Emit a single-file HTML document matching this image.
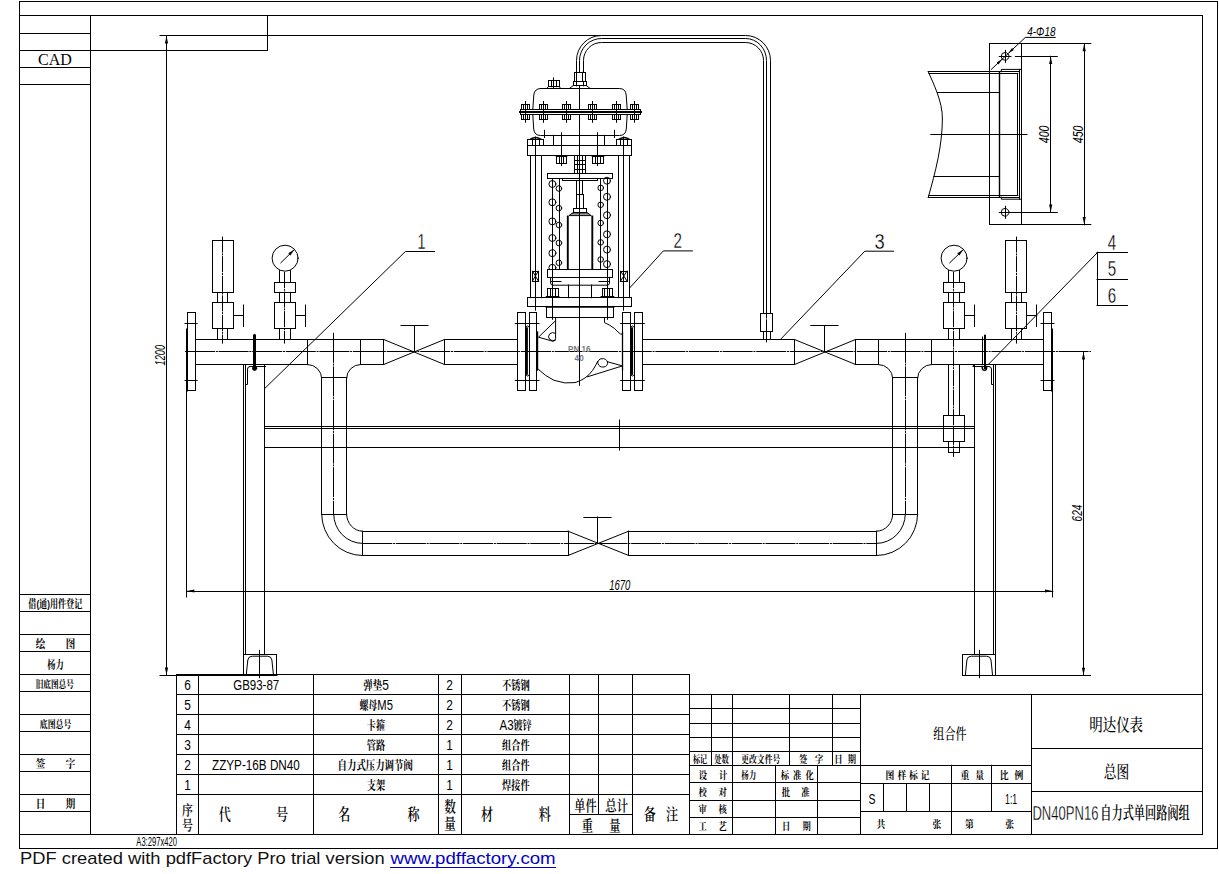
<!DOCTYPE html>
<html lang="zh"><head><meta charset="utf-8"><title>DN40PN16自力式单回路阀组</title>
<style>
html,body{margin:0;padding:0;background:#fff;}
body{width:1219px;height:874px;overflow:hidden;position:relative;font-family:"Liberation Sans","Noto Sans CJK SC",sans-serif;}
svg{position:absolute;left:0;top:0;display:block;}
</style></head><body>
<svg width="1219" height="874" viewBox="0 0 1219 874">
<g stroke="#000" fill="none" stroke-width="1" stroke-linecap="square">
<rect x="19.5" y="1.5" width="1198" height="847"/>
<line x1="19.5" y1="15.5" x2="1202.5" y2="15.5"/>
<line x1="1202.5" y1="15.5" x2="1202.5" y2="834"/>
<line x1="19.5" y1="834.5" x2="1202.5" y2="834.5"/>
<line x1="90.5" y1="15.5" x2="90.5" y2="834"/>
<line x1="19.5" y1="50.5" x2="267.5" y2="50.5"/>
<line x1="267.5" y1="15.5" x2="267.5" y2="50.5"/>
<line x1="19.5" y1="33.5" x2="90.5" y2="33.5"/>
<line x1="19.5" y1="67.5" x2="90.5" y2="67.5"/>
<line x1="19.5" y1="84.5" x2="90.5" y2="84.5"/>
<line x1="19.5" y1="594.5" x2="90.5" y2="594.5"/>
<line x1="19.5" y1="611.5" x2="90.5" y2="611.5"/>
<line x1="19.5" y1="634.5" x2="90.5" y2="634.5"/>
<line x1="19.5" y1="651.5" x2="90.5" y2="651.5"/>
<line x1="19.5" y1="674.5" x2="90.5" y2="674.5"/>
<line x1="19.5" y1="691.5" x2="90.5" y2="691.5"/>
<line x1="19.5" y1="714.5" x2="90.5" y2="714.5"/>
<line x1="19.5" y1="731.5" x2="90.5" y2="731.5"/>
<line x1="19.5" y1="754.5" x2="90.5" y2="754.5"/>
<line x1="19.5" y1="771.5" x2="90.5" y2="771.5"/>
<line x1="19.5" y1="794.5" x2="90.5" y2="794.5"/>
<line x1="19.5" y1="811.5" x2="90.5" y2="811.5"/>
<line x1="176.5" y1="674.5" x2="689.5" y2="674.5"/>
<line x1="176.5" y1="694.5" x2="689.5" y2="694.5"/>
<line x1="176.5" y1="714.5" x2="689.5" y2="714.5"/>
<line x1="176.5" y1="734.5" x2="689.5" y2="734.5"/>
<line x1="176.5" y1="754.5" x2="689.5" y2="754.5"/>
<line x1="176.5" y1="774.5" x2="689.5" y2="774.5"/>
<line x1="176.5" y1="794.5" x2="689.5" y2="794.5"/>
<line x1="176.5" y1="674.5" x2="176.5" y2="834"/>
<line x1="198.5" y1="674.5" x2="198.5" y2="834"/>
<line x1="313.5" y1="674.5" x2="313.5" y2="834"/>
<line x1="438.5" y1="674.5" x2="438.5" y2="834"/>
<line x1="461.5" y1="674.5" x2="461.5" y2="834"/>
<line x1="569.5" y1="674.5" x2="569.5" y2="834"/>
<line x1="598.5" y1="674.5" x2="598.5" y2="814.5"/>
<line x1="632.5" y1="674.5" x2="632.5" y2="834"/>
<line x1="689.5" y1="674.5" x2="689.5" y2="834"/>
<line x1="569.5" y1="814.5" x2="632.5" y2="814.5"/>
<line x1="160" y1="675.5" x2="277" y2="675.5"/>
<line x1="689.5" y1="694.5" x2="689.5" y2="834"/>
<line x1="689.5" y1="694.5" x2="1202.5" y2="694.5"/>
<line x1="689.5" y1="708.5" x2="860.5" y2="708.5"/>
<line x1="689.5" y1="723.5" x2="860.5" y2="723.5"/>
<line x1="689.5" y1="737.5" x2="860.5" y2="737.5"/>
<line x1="689.5" y1="751.5" x2="860.5" y2="751.5"/>
<line x1="689.5" y1="765.5" x2="1031.5" y2="765.5"/>
<line x1="689.5" y1="782.5" x2="860.5" y2="782.5"/>
<line x1="689.5" y1="800.5" x2="860.5" y2="800.5"/>
<line x1="689.5" y1="817.5" x2="860.5" y2="817.5"/>
<line x1="711.5" y1="694.5" x2="711.5" y2="765.3"/>
<line x1="789.5" y1="694.5" x2="789.5" y2="765.3"/>
<line x1="832.5" y1="694.5" x2="832.5" y2="765.3"/>
<line x1="732.5" y1="694.5" x2="732.5" y2="834"/>
<line x1="860.5" y1="694.5" x2="860.5" y2="834"/>
<line x1="775.5" y1="765.3" x2="775.5" y2="834"/>
<line x1="817.5" y1="765.3" x2="817.5" y2="834"/>
<line x1="860.5" y1="783.5" x2="1031.5" y2="783.5"/>
<line x1="860.5" y1="811.5" x2="1031.5" y2="811.5"/>
<line x1="883.5" y1="783.5" x2="883.5" y2="811.5"/>
<line x1="906.5" y1="783.5" x2="906.5" y2="811.5"/>
<line x1="929.5" y1="783.5" x2="929.5" y2="811.5"/>
<line x1="951.5" y1="765.3" x2="951.5" y2="834"/>
<line x1="991.5" y1="765.3" x2="991.5" y2="811.5"/>
<line x1="1031.5" y1="694.5" x2="1031.5" y2="834"/>
<line x1="1031.5" y1="748.5" x2="1202.5" y2="748.5"/>
<line x1="1031.5" y1="791.5" x2="1202.5" y2="791.5"/>
<line x1="160" y1="35.5" x2="601" y2="35.5"/>
<line x1="166.5" y1="35.5" x2="166.5" y2="675"/>
<path d="M166.5,36 L168.1,43.5 L164.9,43.5 Z" fill="#000" stroke="none"/>
<path d="M166.5,675 L164.9,667.5 L168.1,667.5 Z" fill="#000" stroke="none"/>
<line x1="186.5" y1="591.5" x2="1052.8" y2="591.5"/>
<line x1="186.5" y1="390.5" x2="186.5" y2="597"/>
<line x1="1052.5" y1="390.5" x2="1052.5" y2="597"/>
<path d="M186.8,591 L194.3,589.4 L194.3,592.6 Z" fill="#000" stroke="none"/>
<path d="M1052.5,591 L1045,592.6 L1045,589.4 Z" fill="#000" stroke="none"/>
<line x1="1083.5" y1="351.6" x2="1083.5" y2="675.5"/>
<line x1="995.5" y1="675.5" x2="1090.5" y2="675.5"/>
<path d="M1083.5,352 L1085.1,359.5 L1081.9,359.5 Z" fill="#000" stroke="none"/>
<path d="M1083.5,675.2 L1081.9,667.7 L1085.1,667.7 Z" fill="#000" stroke="none"/>
<line x1="185" y1="351.5" x2="1091" y2="351.5" stroke-linecap="butt" stroke-dasharray="30 0.8 2 0.8"/>
<line x1="195.7" y1="339.5" x2="383.7" y2="339.5"/>
<line x1="195.7" y1="364.5" x2="307.6" y2="364.5"/>
<line x1="360.4" y1="364.5" x2="383.7" y2="364.5"/>
<line x1="307.5" y1="339.5" x2="307.5" y2="364.5"/>
<line x1="360.5" y1="339.5" x2="360.5" y2="364.5"/>
<line x1="383.5" y1="339.5" x2="383.5" y2="364.5"/>
<line x1="444.5" y1="339.5" x2="444.5" y2="364.5"/>
<line x1="383.7" y1="339.5" x2="444.5" y2="364.5"/>
<line x1="383.7" y1="364.5" x2="444.5" y2="339.5"/>
<line x1="414.5" y1="325.5" x2="414.5" y2="351.6"/>
<line x1="401" y1="325.5" x2="428" y2="325.5"/>
<line x1="444.5" y1="339.5" x2="517.2" y2="339.5"/>
<line x1="444.5" y1="364.5" x2="517.2" y2="364.5"/>
<line x1="642.6" y1="339.5" x2="794.5" y2="339.5"/>
<line x1="642.6" y1="364.5" x2="794.5" y2="364.5"/>
<line x1="794.5" y1="339.5" x2="794.5" y2="364.5"/>
<line x1="855.5" y1="339.5" x2="855.5" y2="364.5"/>
<line x1="794.5" y1="339.5" x2="855.6" y2="364.5"/>
<line x1="794.5" y1="364.5" x2="855.6" y2="339.5"/>
<line x1="824.5" y1="325.5" x2="824.5" y2="351.6"/>
<line x1="810.8" y1="325.5" x2="838" y2="325.5"/>
<line x1="855.6" y1="339.5" x2="1043.3" y2="339.5"/>
<line x1="855.6" y1="364.5" x2="878.3" y2="364.5"/>
<line x1="931.7" y1="364.5" x2="1043.3" y2="364.5"/>
<line x1="878.5" y1="339.5" x2="878.5" y2="364.5"/>
<line x1="931.5" y1="339.5" x2="931.5" y2="364.5"/>
<path d="M307.6,364.5 A14.1,13.7 0 0 1 321.7,378.2"/>
<path d="M360.4,364.5 A13.8,13.7 0 0 0 346.6,378.2"/>
<line x1="321.7" y1="377.5" x2="346.6" y2="377.5"/>
<line x1="321.5" y1="377.6" x2="321.5" y2="514.2"/>
<line x1="346.5" y1="377.6" x2="346.5" y2="514.2"/>
<line x1="333.5" y1="332.8" x2="333.5" y2="514.2" stroke-linecap="butt" stroke-dasharray="30 0.8 2 0.8"/>
<line x1="321.7" y1="514.5" x2="346.6" y2="514.5"/>
<path d="M878.3,364.5 A14.4,13.7 0 0 1 892.7,378.2"/>
<path d="M931.7,364.5 A14.1,13.7 0 0 0 917.6,378.2"/>
<line x1="892.7" y1="377.5" x2="917.6" y2="377.5"/>
<line x1="892.5" y1="377.6" x2="892.5" y2="514.2"/>
<line x1="917.5" y1="377.6" x2="917.5" y2="514.2"/>
<line x1="905.5" y1="332.8" x2="905.5" y2="514.2" stroke-linecap="butt" stroke-dasharray="30 0.8 2 0.8"/>
<line x1="892.7" y1="514.5" x2="917.6" y2="514.5"/>
<path d="M321.7,514.2 A40.6,41.3 0 0 0 362.3,555.5"/>
<path d="M333.7,514.2 A28.6,29.2 0 0 0 362.3,543.4"/>
<path d="M346.6,514.2 A15.7,17 0 0 0 362.3,531.2"/>
<path d="M917.6,514.2 A40.9,41.3 0 0 1 876.7,555.5"/>
<path d="M905.3,514.2 A28.6,29.2 0 0 1 876.7,543.4"/>
<path d="M892.7,514.2 A16,17 0 0 1 876.7,531.2"/>
<line x1="362.5" y1="531.2" x2="362.5" y2="555.5"/>
<line x1="876.5" y1="531.2" x2="876.5" y2="555.5"/>
<line x1="362.3" y1="543.5" x2="876.7" y2="543.5" stroke-linecap="butt" stroke-dasharray="30 0.8 2 0.8"/>
<line x1="362.3" y1="531.5" x2="568" y2="531.5"/>
<line x1="362.3" y1="555.5" x2="568" y2="555.5"/>
<line x1="568.5" y1="531.2" x2="568.5" y2="555.5"/>
<line x1="628.5" y1="531.2" x2="628.5" y2="555.5"/>
<line x1="568" y1="531.2" x2="628.7" y2="555.5"/>
<line x1="568" y1="555.5" x2="628.7" y2="531.2"/>
<line x1="597.5" y1="517" x2="597.5" y2="543.4"/>
<line x1="583.9" y1="517.5" x2="611.1" y2="517.5"/>
<line x1="628.7" y1="531.5" x2="876.7" y2="531.5"/>
<line x1="628.7" y1="555.5" x2="876.7" y2="555.5"/>
<line x1="264.7" y1="426.5" x2="974.5" y2="426.5"/>
<line x1="264.7" y1="428.5" x2="974.5" y2="428.5"/>
<line x1="264.7" y1="447.5" x2="974.5" y2="447.5"/>
<line x1="619.5" y1="420" x2="619.5" y2="450"/>
<line x1="243.5" y1="364.5" x2="243.5" y2="654.5"/>
<line x1="245.5" y1="364.5" x2="245.5" y2="654.5"/>
<line x1="264.5" y1="364.5" x2="264.5" y2="654.5"/>
<line x1="974.5" y1="364.5" x2="974.5" y2="654.5"/>
<line x1="993.5" y1="364.5" x2="993.5" y2="654.5"/>
<line x1="995.5" y1="364.5" x2="995.5" y2="654.5"/>
<line x1="250" y1="366.5" x2="265.5" y2="366.5"/>
<path d="M245.5,384.5 L247.5,384.5 L247.5,369 Q247.5,366.5 250,366.5"/>
<line x1="973" y1="366.5" x2="989" y2="366.5"/>
<line x1="973.5" y1="364.5" x2="973.5" y2="366.5"/>
<path d="M993.5,384.5 L991.5,384.5 L991.5,369 Q991.5,366.5 989,366.5"/>
<rect x="243.5" y="654.5" width="33" height="21"/>
<path d="M246.2,675.5 L247.8,660 Q248.4,656.2 252.2,656.2 L267.5,656.2 Q271.3,656.2 271.9,660 L273.5,675.5"/>
<line x1="259.5" y1="650.4" x2="259.5" y2="677.7"/>
<rect x="962.5" y="654.5" width="33" height="21"/>
<path d="M965.3,675.5 L966.9,660 Q967.5,656.2 971.3,656.2 L986.6,656.2 Q990.4,656.2 991,660 L992.6,675.5"/>
<line x1="979.5" y1="650.4" x2="979.5" y2="677.7"/>
<rect x="187.5" y="312.5" width="8" height="78"/>
<line x1="185" y1="323.5" x2="197" y2="323.5"/>
<line x1="185" y1="380.5" x2="197" y2="380.5"/>
<line x1="187" y1="329.5" x2="187" y2="390.5" stroke-width="2"/>
<rect x="1043.5" y="312.5" width="8" height="78"/>
<line x1="1041" y1="323.5" x2="1054" y2="323.5"/>
<line x1="1041" y1="380.5" x2="1054" y2="380.5"/>
<line x1="1052" y1="329.5" x2="1052" y2="390.5" stroke-width="2"/>
<line x1="254.5" y1="336" x2="254.5" y2="368" stroke-width="3"/>
<circle cx="254.6" cy="368.3" r="2.1" fill="#000"/>
<path d="M254.5,333.5 L253,337 L256,337 Z" fill="#000" stroke="none"/>
<line x1="982.5" y1="337" x2="982.5" y2="364.5"/>
<line x1="985" y1="336" x2="985" y2="368" stroke-width="2"/>
<path d="M985,333.5 L984,337 L986,337 Z" fill="#000" stroke="none"/>
<path d="M982.3,366.5 Q982,370.3 984.6,370.3 Q986.8,370.3 986.6,366.5" stroke-width="1.6"/>
<rect x="212.5" y="240.5" width="21" height="52"/>
<line x1="222.5" y1="236.6" x2="222.5" y2="343.6" stroke-linecap="butt" stroke-dasharray="16 0.8 2 0.8"/>
<line x1="217.5" y1="292.4" x2="217.5" y2="302.5"/>
<line x1="217.5" y1="328.5" x2="217.5" y2="339.5"/>
<line x1="227.5" y1="292.4" x2="227.5" y2="302.5"/>
<line x1="227.5" y1="328.5" x2="227.5" y2="339.5"/>
<rect x="212.5" y="302.5" width="21" height="26"/>
<line x1="233.5" y1="315.5" x2="243.4" y2="315.5"/>
<line x1="243.5" y1="305" x2="243.5" y2="326.5"/>
<circle cx="285.1" cy="258.2" r="13"/>
<line x1="280.8" y1="262.8" x2="294.4" y2="249.5"/>
<path d="M294.4,249.5 L290.41,255.44 L288.32,253.28 Z" fill="#000" stroke="none"/>
<line x1="284.5" y1="272" x2="284.5" y2="343.6" stroke-linecap="butt" stroke-dasharray="16 0.8 2 0.8"/>
<line x1="279.5" y1="270.5" x2="279.5" y2="282.4"/>
<line x1="279.5" y1="292.4" x2="279.5" y2="302.5"/>
<line x1="279.5" y1="328.5" x2="279.5" y2="339.5"/>
<line x1="290.5" y1="270.5" x2="290.5" y2="282.4"/>
<line x1="290.5" y1="292.4" x2="290.5" y2="302.5"/>
<line x1="290.5" y1="328.5" x2="290.5" y2="339.5"/>
<rect x="274.5" y="282.5" width="21" height="10"/>
<rect x="274.5" y="302.5" width="21" height="26"/>
<line x1="295.4" y1="315.5" x2="305.6" y2="315.5"/>
<line x1="305.5" y1="305" x2="305.5" y2="326.5"/>
<rect x="1005.5" y="240.5" width="21" height="52"/>
<line x1="1016.5" y1="236.6" x2="1016.5" y2="343.6" stroke-linecap="butt" stroke-dasharray="16 0.8 2 0.8"/>
<line x1="1011.5" y1="292.4" x2="1011.5" y2="302.5"/>
<line x1="1011.5" y1="328.5" x2="1011.5" y2="339.5"/>
<line x1="1021.5" y1="292.4" x2="1021.5" y2="302.5"/>
<line x1="1021.5" y1="328.5" x2="1021.5" y2="339.5"/>
<rect x="1005.5" y="302.5" width="21" height="26"/>
<line x1="1026.9" y1="315.5" x2="1036.8" y2="315.5"/>
<line x1="1036.5" y1="305" x2="1036.5" y2="326.5"/>
<circle cx="954.1" cy="258.2" r="13"/>
<line x1="949.8" y1="262.8" x2="963.4" y2="249.5"/>
<path d="M963.4,249.5 L959.41,255.44 L957.32,253.28 Z" fill="#000" stroke="none"/>
<line x1="953.5" y1="272" x2="953.5" y2="456.9" stroke-linecap="butt" stroke-dasharray="16 0.8 2 0.8"/>
<line x1="948.5" y1="270.5" x2="948.5" y2="282.4"/>
<line x1="948.5" y1="292.4" x2="948.5" y2="302.5"/>
<line x1="948.5" y1="328.5" x2="948.5" y2="339.5"/>
<line x1="959.5" y1="270.5" x2="959.5" y2="282.4"/>
<line x1="959.5" y1="292.4" x2="959.5" y2="302.5"/>
<line x1="959.5" y1="328.5" x2="959.5" y2="339.5"/>
<rect x="943.5" y="282.5" width="21" height="10"/>
<rect x="943.5" y="302.5" width="21" height="26"/>
<line x1="964.4" y1="315.5" x2="974.6" y2="315.5"/>
<line x1="974.5" y1="305" x2="974.5" y2="326.5"/>
<line x1="948.5" y1="364.5" x2="948.5" y2="415.4"/>
<line x1="959.5" y1="364.5" x2="959.5" y2="415.4"/>
<rect x="943.5" y="415.5" width="21" height="26"/>
<rect x="948.5" y="441.5" width="11" height="11"/>
<path d="M576.5,72.5 L576.5,60.5 A25,25 0 0 1 601.5,35.5 L745.5,35.5 A25,25 0 0 1 770.5,60.5 L770.5,313.5"/>
<path d="M579.5,72.5 L579.5,60.5 A22,22 0 0 1 601.5,38.5 L745.5,38.5 A21,22 0 0 1 766.5,60.5 L766.5,313.5"/>
<path d="M583.5,72.5 L583.5,60.5 A18,18 0 0 1 601.5,42.5 L745.5,42.5 A18,18 0 0 1 763.5,60.5 L763.5,313.5"/>
<rect x="760.5" y="313.5" width="12" height="18"/>
<line x1="763.5" y1="331.6" x2="763.5" y2="339.5"/>
<line x1="770.5" y1="331.6" x2="770.5" y2="339.5"/>
<line x1="766.5" y1="313.5" x2="766.5" y2="342.4" stroke-linecap="butt" stroke-dasharray="5 0.8 40"/>
<path d="M264.7,388.5 L405.4,251.5 L434.6,251.5"/>
<path d="M629.9,287.7 L663.3,250.9 L692.4,250.9"/>
<path d="M780.4,339.5 L864.8,251.2 L893.6,251.2"/>
<path d="M988.3,364.5 L1097.5,252.5"/>
<line x1="1097.5" y1="252.2" x2="1097.5" y2="305.2"/>
<line x1="1097" y1="252.5" x2="1127.5" y2="252.5"/>
<line x1="1097" y1="279.5" x2="1127.5" y2="279.5"/>
<line x1="1097" y1="305.5" x2="1127.5" y2="305.5"/>
<rect x="517.5" y="312.5" width="8" height="78"/>
<rect x="529.5" y="312.5" width="7" height="78"/>
<line x1="515.3" y1="323.5" x2="539" y2="323.5"/>
<line x1="515.3" y1="380.5" x2="539" y2="380.5"/>
<rect x="622.5" y="312.5" width="8" height="78"/>
<rect x="634.5" y="312.5" width="8" height="78"/>
<line x1="620.7" y1="323.5" x2="644.3" y2="323.5"/>
<line x1="620.7" y1="380.5" x2="644.3" y2="380.5"/>
<line x1="526.7" y1="328.5" x2="526.7" y2="373.6" stroke-width="2.4"/>
<line x1="537.3" y1="332.2" x2="537.3" y2="369.8" stroke-width="1.8"/>
<line x1="631.9" y1="328.5" x2="631.9" y2="373.6" stroke-width="2.4"/>
<line x1="622.5" y1="332.2" x2="622.5" y2="369.8" stroke-width="1.3"/>
<path d="M525.6,327 Q527.5,324.5 529.4,327"/>
<path d="M525.6,375 Q527.5,377.5 529.4,375"/>
<path d="M630.5,327 Q632.4,324.5 634.3,327"/>
<path d="M630.5,375 Q632.4,377.5 634.3,375"/>
<path d="M555.6,317.6 L555.6,338.5 Q555.4,341 553,341.3 L538.5,337.2 L555.6,320.6"/>
<path d="M555.6,333.2 Q552,331.5 549.6,334 Q547.2,337 549.8,339.6 Q552.2,341.6 555.4,340.2"/>
<path d="M604.5,317.6 L604.5,322.6 Q610,325 614.5,328.5 Q618.5,332.5 620.3,333.9 L622.4,334.3"/>
<path d="M538.5,369.5 Q545,376 554,380.3 Q565,384.3 575,382.6 Q586,379.5 592.5,370.5 Q595.5,366 597.6,361.6"/>
<path d="M597.6,361.6 Q599.5,357.6 603.5,358.6 Q608,360 607.6,363.6 Q606.6,367.6 601.6,367 Q597.8,366.2 597.6,361.6"/>
<path d="M607.6,361.8 L622.4,365.9 L587.5,376.8"/>
<line x1="579.5" y1="85.6" x2="579.5" y2="385.3"/>
<rect x="527.5" y="297.5" width="104" height="9"/>
<rect x="546.5" y="306.5" width="67" height="11"/>
<line x1="546.4" y1="306.8" x2="613.6" y2="306.8" stroke-width="1.8"/>
<line x1="530.5" y1="155.5" x2="530.5" y2="297.7"/>
<line x1="541.5" y1="155.5" x2="541.5" y2="297.7"/>
<line x1="618.5" y1="155.5" x2="618.5" y2="297.7"/>
<line x1="629.5" y1="155.5" x2="629.5" y2="297.7"/>
<line x1="535.5" y1="137" x2="535.5" y2="310.2"/>
<line x1="623.5" y1="137" x2="623.5" y2="310.2"/>
<rect x="532.5" y="271.5" width="6" height="10"/>
<line x1="532.5" y1="271.1" x2="538.3" y2="281"/>
<line x1="532.5" y1="281" x2="538.3" y2="271.1"/>
<rect x="620.5" y="271.5" width="7" height="10"/>
<line x1="620.6" y1="271.1" x2="627" y2="281"/>
<line x1="620.6" y1="281" x2="627" y2="271.1"/>
<rect x="527.5" y="145.5" width="104" height="10"/>
<rect x="527.5" y="139.5" width="16" height="6"/>
<line x1="532.5" y1="139.1" x2="532.5" y2="145.3"/>
<line x1="539.5" y1="139.1" x2="539.5" y2="145.3"/>
<path d="M530.5,139.1 Q535.6,135.8 540.8,139.1" stroke-width="1.4"/>
<rect x="616.5" y="139.5" width="15" height="6"/>
<line x1="620.5" y1="139.1" x2="620.5" y2="145.3"/>
<line x1="627.5" y1="139.1" x2="627.5" y2="145.3"/>
<path d="M619.3,139.1 Q624.2,135.8 629,139.1" stroke-width="1.4"/>
<line x1="553.5" y1="135.3" x2="553.5" y2="145.3"/>
<line x1="604.5" y1="135.3" x2="604.5" y2="145.3"/>
<path d="M540.5,88.5 L619.5,88.5 Q625.6,88.6 626.2,95 L627.2,109.5 L627.2,114.5 L626.3,129 Q625.6,135.5 619.5,135.5 L540.5,135.5 Q534.4,135.5 533.7,129 L532.8,114.5 L532.8,109.5 L533.8,95 Q534.4,88.6 540.5,88.5 Z"/>
<rect x="520.5" y="109.5" width="120" height="5" fill="#fff"/>
<line x1="520" y1="112" x2="641" y2="112" stroke-width="2"/>
<rect x="521.5" y="104.5" width="8" height="5"/>
<rect x="521.5" y="114.5" width="8" height="5"/>
<line x1="523.5" y1="104.5" x2="523.5" y2="109.5"/>
<line x1="523.5" y1="114.5" x2="523.5" y2="119.5"/>
<line x1="527.5" y1="104.5" x2="527.5" y2="109.5"/>
<line x1="527.5" y1="114.5" x2="527.5" y2="119.5"/>
<line x1="525.5" y1="101.5" x2="525.5" y2="122.3"/>
<rect x="539.5" y="104.5" width="8" height="5"/>
<rect x="539.5" y="114.5" width="8" height="5"/>
<line x1="541.5" y1="104.5" x2="541.5" y2="109.5"/>
<line x1="541.5" y1="114.5" x2="541.5" y2="119.5"/>
<line x1="545.5" y1="104.5" x2="545.5" y2="109.5"/>
<line x1="545.5" y1="114.5" x2="545.5" y2="119.5"/>
<line x1="543.5" y1="101.5" x2="543.5" y2="122.3"/>
<rect x="562.5" y="104.5" width="8" height="5"/>
<rect x="562.5" y="114.5" width="8" height="5"/>
<line x1="564.5" y1="104.5" x2="564.5" y2="109.5"/>
<line x1="564.5" y1="114.5" x2="564.5" y2="119.5"/>
<line x1="568.5" y1="104.5" x2="568.5" y2="109.5"/>
<line x1="568.5" y1="114.5" x2="568.5" y2="119.5"/>
<line x1="566.5" y1="101.5" x2="566.5" y2="122.3"/>
<rect x="588.5" y="104.5" width="8" height="5"/>
<rect x="588.5" y="114.5" width="8" height="5"/>
<line x1="590.5" y1="104.5" x2="590.5" y2="109.5"/>
<line x1="590.5" y1="114.5" x2="590.5" y2="119.5"/>
<line x1="594.5" y1="104.5" x2="594.5" y2="109.5"/>
<line x1="594.5" y1="114.5" x2="594.5" y2="119.5"/>
<line x1="592.5" y1="101.5" x2="592.5" y2="122.3"/>
<rect x="612.5" y="104.5" width="8" height="5"/>
<rect x="612.5" y="114.5" width="8" height="5"/>
<line x1="614.5" y1="104.5" x2="614.5" y2="109.5"/>
<line x1="614.5" y1="114.5" x2="614.5" y2="119.5"/>
<line x1="618.5" y1="104.5" x2="618.5" y2="109.5"/>
<line x1="618.5" y1="114.5" x2="618.5" y2="119.5"/>
<line x1="616.5" y1="101.5" x2="616.5" y2="122.3"/>
<rect x="630.5" y="104.5" width="8" height="5"/>
<rect x="630.5" y="114.5" width="8" height="5"/>
<line x1="632.5" y1="104.5" x2="632.5" y2="109.5"/>
<line x1="632.5" y1="114.5" x2="632.5" y2="119.5"/>
<line x1="636.5" y1="104.5" x2="636.5" y2="109.5"/>
<line x1="636.5" y1="114.5" x2="636.5" y2="119.5"/>
<line x1="634.5" y1="101.5" x2="634.5" y2="122.3"/>
<rect x="548.5" y="80.5" width="11" height="6"/>
<line x1="551.5" y1="80.6" x2="551.5" y2="86.7"/>
<line x1="556.5" y1="80.6" x2="556.5" y2="86.7"/>
<line x1="553.5" y1="78" x2="553.5" y2="88.4"/>
<path d="M546.8,88.4 L548.4,86.7 M559.2,86.7 L560.8,88.4"/>
<rect x="574.5" y="72.5" width="11" height="9"/>
<line x1="576.5" y1="72.3" x2="576.5" y2="81.4"/>
<line x1="582.5" y1="72.3" x2="582.5" y2="81.4"/>
<rect x="573.5" y="81.5" width="13" height="4"/>
<line x1="576.5" y1="81.4" x2="576.5" y2="85.8"/>
<line x1="583.5" y1="81.4" x2="583.5" y2="85.8"/>
<path d="M573,85.8 L569.7,88.2 M586.6,85.8 L589.8,88.2"/>
<line x1="544.5" y1="130.3" x2="544.5" y2="137.5"/>
<line x1="614.5" y1="130.3" x2="614.5" y2="137.5"/>
<line x1="561.5" y1="132.8" x2="561.5" y2="165.5"/>
<line x1="597.5" y1="132.8" x2="597.5" y2="165.5"/>
<rect x="556.5" y="156.5" width="10" height="7"/>
<line x1="559.5" y1="156.9" x2="559.5" y2="163.5"/>
<line x1="563.5" y1="156.9" x2="563.5" y2="163.5"/>
<rect x="592.5" y="156.5" width="11" height="7"/>
<line x1="595.5" y1="156.9" x2="595.5" y2="163.5"/>
<line x1="600.5" y1="156.9" x2="600.5" y2="163.5"/>
<path d="M555.5,155.5 L556.5,157 M567.5,155.5 L566.5,157 M591.5,155.5 L592.5,157 M604.5,155.5 L603.5,157"/>
<rect x="574.5" y="155.5" width="11" height="18"/>
<line x1="574.6" y1="160.5" x2="585.4" y2="160.5"/>
<line x1="574.6" y1="164.5" x2="585.4" y2="164.5"/>
<line x1="574.6" y1="169.5" x2="585.4" y2="169.5"/>
<line x1="577.5" y1="155.5" x2="577.5" y2="173.6"/>
<line x1="582.5" y1="155.5" x2="582.5" y2="173.6"/>
<rect x="547.5" y="173.5" width="65" height="5"/>
<line x1="562.5" y1="180.5" x2="597.5" y2="180.5"/>
<line x1="562.5" y1="178.5" x2="562.5" y2="180.5"/>
<line x1="597.5" y1="178.5" x2="597.5" y2="180.5"/>
<rect x="576.5" y="180.5" width="6" height="14"/>
<rect x="576.5" y="194.5" width="7" height="14"/>
<rect x="573.5" y="208.5" width="13" height="4"/>
<path d="M573.8,212.2 L571.2,213.9 L588.9,213.9 L586.6,212.2 M571.2,213.9 L569,215.6 L591.2,215.6 L588.9,213.9"/>
<line x1="567.8" y1="216.5" x2="567.8" y2="269.5" stroke-width="1.9"/>
<line x1="592.3" y1="216.5" x2="592.3" y2="269.5" stroke-width="1.9"/>
<line x1="559.5" y1="178.6" x2="559.5" y2="269.5"/>
<line x1="600.5" y1="178.6" x2="600.5" y2="269.5"/>
<line x1="552.5" y1="178.6" x2="552.5" y2="319.3"/>
<line x1="607.5" y1="178.6" x2="607.5" y2="319.3"/>
<circle cx="552.4" cy="184" r="3.5"/>
<circle cx="552.4" cy="202.3" r="3.5"/>
<circle cx="552.4" cy="221.4" r="3.5"/>
<circle cx="552.4" cy="238" r="3.5"/>
<circle cx="552.4" cy="253.2" r="3.5"/>
<circle cx="552.4" cy="267.8" r="3.5"/>
<circle cx="558.9" cy="188.5" r="2.8"/>
<circle cx="558.9" cy="208.1" r="2.8"/>
<circle cx="558.9" cy="225" r="2.8"/>
<circle cx="558.9" cy="243" r="2.8"/>
<circle cx="558.9" cy="262.8" r="2.8"/>
<circle cx="600.7" cy="187.9" r="2.8"/>
<circle cx="600.7" cy="204.8" r="2.8"/>
<circle cx="600.7" cy="223" r="2.8"/>
<circle cx="600.7" cy="242.4" r="2.8"/>
<circle cx="600.7" cy="259.5" r="2.8"/>
<circle cx="607" cy="180.7" r="3.5"/>
<circle cx="607" cy="196.8" r="3.5"/>
<circle cx="607" cy="215.2" r="3.5"/>
<circle cx="607" cy="234.3" r="3.5"/>
<circle cx="607" cy="249.6" r="3.5"/>
<circle cx="607" cy="264.1" r="3.5"/>
<rect x="547.5" y="269.5" width="65" height="8" fill="#fff"/>
<line x1="552.5" y1="269.5" x2="552.5" y2="277.4"/>
<line x1="607.5" y1="269.5" x2="607.5" y2="277.4"/>
<line x1="579.5" y1="269.5" x2="579.5" y2="277.4"/>
<path d="M550.6,277.4 L550.6,283 Q550.6,285.2 553,285.2 L607,285.2 Q609.5,285.2 609.5,283 L609.5,277.4"/>
<line x1="551.5" y1="281.5" x2="561" y2="281.5"/>
<line x1="599" y1="281.5" x2="608.5" y2="281.5"/>
<line x1="568.5" y1="285.2" x2="568.5" y2="297.7"/>
<line x1="591.5" y1="285.2" x2="591.5" y2="297.7"/>
<rect x="547.5" y="288.5" width="11" height="8"/>
<line x1="550.5" y1="288.5" x2="550.5" y2="296.2"/>
<line x1="555.5" y1="288.5" x2="555.5" y2="296.2"/>
<line x1="546.3" y1="296.5" x2="559" y2="296.5"/>
<rect x="602.5" y="288.5" width="10" height="8"/>
<line x1="604.5" y1="288.5" x2="604.5" y2="296.2"/>
<line x1="609.5" y1="288.5" x2="609.5" y2="296.2"/>
<line x1="601" y1="296.5" x2="613.8" y2="296.5"/>
<rect x="989.5" y="43.5" width="32" height="181"/>
<circle cx="1005.1" cy="56.4" r="3.9"/>
<line x1="1005.5" y1="50.4" x2="1005.5" y2="62.4"/>
<line x1="999.3" y1="56.5" x2="1010.9" y2="56.5"/>
<circle cx="1005.1" cy="212.3" r="3.9"/>
<line x1="1005.5" y1="206.3" x2="1005.5" y2="218.3"/>
<line x1="999.3" y1="212.5" x2="1010.9" y2="212.5"/>
<line x1="928.3" y1="71.5" x2="1019.5" y2="71.5"/>
<line x1="929" y1="73.5" x2="1017.8" y2="73.5"/>
<line x1="937.4" y1="92.5" x2="998.8" y2="92.5"/>
<line x1="934.1" y1="176.5" x2="998.8" y2="176.5"/>
<line x1="928.8" y1="195.5" x2="1017.8" y2="195.5"/>
<line x1="928.3" y1="197.5" x2="1019.5" y2="197.5"/>
<line x1="930.8" y1="134.5" x2="1027" y2="134.5"/>
<path d="M928.3,71.7 C933,83 942.6,101 942.4,119 C942.2,146 935.5,172 928.3,197.1"/>
<line x1="999.5" y1="71.7" x2="999.5" y2="197.1" stroke-width="1.4"/>
<line x1="1017.5" y1="73.4" x2="1017.5" y2="195.4"/>
<line x1="1019.5" y1="69.4" x2="1019.5" y2="199.2"/>
<path d="M1021.2,69.4 L1001.3,69.4 L1001.3,71.7"/>
<path d="M1021.2,199.2 L1001.3,199.2 L1001.3,197.1"/>
<line x1="1084.5" y1="43.5" x2="1084.5" y2="224.9"/>
<line x1="1021.2" y1="43.5" x2="1090.8" y2="43.5"/>
<line x1="1021.2" y1="224.5" x2="1090.8" y2="224.5"/>
<path d="M1084.2,43.8 L1085.8,51.3 L1082.6,51.3 Z" fill="#000" stroke="none"/>
<path d="M1084.2,224.6 L1082.6,217.1 L1085.8,217.1 Z" fill="#000" stroke="none"/>
<line x1="1050.5" y1="56.3" x2="1050.5" y2="212.3"/>
<line x1="1015.4" y1="56.5" x2="1057.3" y2="56.5"/>
<line x1="1010.9" y1="212.5" x2="1057.3" y2="212.5"/>
<path d="M1050.7,56.6 L1052.3,64.1 L1049.1,64.1 Z" fill="#000" stroke="none"/>
<path d="M1050.7,212 L1049.1,204.5 L1052.3,204.5 Z" fill="#000" stroke="none"/>
<path d="M991.3,69.4 L1025.3,37.4 L1055.2,37.4"/>
<path d="M1002.3,59.1 L998.46,64.5 L996.68,62.61 Z" fill="#000" stroke="none"/>
<path d="M1008.2,53.5 L1012.04,48.1 L1013.82,49.99 Z" fill="#000" stroke="none"/>
<line x1="390.6" y1="867.5" x2="555.6" y2="867.5" stroke-width="1.1" stroke="#0000c8"/>
</g>
<g fill="#000" stroke="none">
<text x="417.6" y="248.6" font-size="22.4" font-family="Liberation Sans, sans-serif" textLength="8" lengthAdjust="spacingAndGlyphs" stroke="#fff" stroke-width="0.3">1</text>
<text x="673.6" y="248" font-size="22.4" font-family="Liberation Sans, sans-serif" textLength="8.4" lengthAdjust="spacingAndGlyphs" stroke="#fff" stroke-width="0.3">2</text>
<text x="874.4" y="248.6" font-size="22.4" font-family="Liberation Sans, sans-serif" textLength="10.2" lengthAdjust="spacingAndGlyphs" stroke="#fff" stroke-width="0.3">3</text>
<text x="1107.8" y="250.2" font-size="22.4" font-family="Liberation Sans, sans-serif" textLength="8.4" lengthAdjust="spacingAndGlyphs" stroke="#fff" stroke-width="0.3">4</text>
<text x="1107.8" y="276" font-size="22.4" font-family="Liberation Sans, sans-serif" textLength="8.4" lengthAdjust="spacingAndGlyphs" stroke="#fff" stroke-width="0.3">5</text>
<text x="1107.8" y="302.8" font-size="22.4" font-family="Liberation Sans, sans-serif" textLength="8.4" lengthAdjust="spacingAndGlyphs" stroke="#fff" stroke-width="0.3">6</text>
<text x="609.2" y="589.7" font-size="13.8" font-family="Liberation Sans, sans-serif" textLength="21.2" lengthAdjust="spacingAndGlyphs" font-style="italic">1670</text>
<text x="150.2" y="360.1" font-size="14.4" font-family="Liberation Sans, sans-serif" textLength="20.6" lengthAdjust="spacingAndGlyphs" transform="rotate(-90 160.4 355.3)" font-style="italic">1200</text>
<text x="1069.4" y="517.6" font-size="14.4" font-family="Liberation Sans, sans-serif" textLength="16.6" lengthAdjust="spacingAndGlyphs" transform="rotate(-90 1077.7 513.1)" font-style="italic">624</text>
<text x="1035.5" y="139.4" font-size="13.8" font-family="Liberation Sans, sans-serif" textLength="17.8" lengthAdjust="spacingAndGlyphs" transform="rotate(-90 1044.3 134.5)" font-style="italic">400</text>
<text x="1069.1" y="139.8" font-size="13.8" font-family="Liberation Sans, sans-serif" textLength="17.8" lengthAdjust="spacingAndGlyphs" transform="rotate(-90 1077.9 134.5)" font-style="italic">450</text>
<text x="1027.3" y="35.9" font-size="13.2" font-family="Liberation Sans, sans-serif" textLength="28.1" lengthAdjust="spacingAndGlyphs" font-style="italic">4-Φ18</text>
<text x="568" y="352" font-size="9" font-family="Liberation Sans, sans-serif" textLength="22.4" lengthAdjust="spacingAndGlyphs" fill="#777" font-weight="700">PN 16</text>
<text x="574.6" y="361.3" font-size="8.5" font-family="Liberation Sans, sans-serif" textLength="9.1" lengthAdjust="spacingAndGlyphs" fill="#777" font-weight="700">40</text>
<text x="38" y="64.7" font-size="17.6" font-family="Liberation Serif, Noto Serif CJK SC, serif" textLength="33.8" lengthAdjust="spacingAndGlyphs">CAD</text>
<text x="28.3" y="608" font-size="10.8" font-family="Liberation Sans, Noto Serif CJK SC, serif" textLength="54" lengthAdjust="spacingAndGlyphs" font-weight="700">借(通)用件登记</text>
<text transform="translate(40.4 647.9) scale(0.82 1)" font-size="11.6" font-family="Liberation Sans, Noto Serif CJK SC, serif" text-anchor="middle" font-weight="700"><tspan x="0">绘</tspan><tspan x="36.83">图</tspan></text>
<text x="47.3" y="668.5" font-size="11.6" font-family="Liberation Sans, Noto Serif CJK SC, serif" textLength="16.5" lengthAdjust="spacingAndGlyphs" font-weight="700">杨力</text>
<text x="35.7" y="687.6" font-size="10.4" font-family="Liberation Sans, Noto Serif CJK SC, serif" textLength="38.1" lengthAdjust="spacingAndGlyphs" font-weight="700">旧底图总号</text>
<text x="39.8" y="727.6" font-size="10.4" font-family="Liberation Sans, Noto Serif CJK SC, serif" textLength="31.5" lengthAdjust="spacingAndGlyphs" font-weight="700">底图总号</text>
<text transform="translate(40.4 767.9) scale(0.82 1)" font-size="11.6" font-family="Liberation Sans, Noto Serif CJK SC, serif" text-anchor="middle" font-weight="700"><tspan x="0">签</tspan><tspan x="36.83">字</tspan></text>
<text transform="translate(40.4 807.8) scale(0.82 1)" font-size="11.6" font-family="Liberation Sans, Noto Serif CJK SC, serif" text-anchor="middle" font-weight="700"><tspan x="0">日</tspan><tspan x="36.83">期</tspan></text>
<text x="136.3" y="846" font-size="12.6" font-family="Liberation Sans, sans-serif" textLength="40.7" lengthAdjust="spacingAndGlyphs">A3:297x420</text>
<text x="184.2" y="690.2" font-size="15.2" font-family="Liberation Sans, sans-serif" textLength="6.6" lengthAdjust="spacingAndGlyphs">6</text>
<text x="184.2" y="710.2" font-size="15.2" font-family="Liberation Sans, sans-serif" textLength="6.6" lengthAdjust="spacingAndGlyphs">5</text>
<text x="184.2" y="730.2" font-size="15.2" font-family="Liberation Sans, sans-serif" textLength="6.6" lengthAdjust="spacingAndGlyphs">4</text>
<text x="184.2" y="750.2" font-size="15.2" font-family="Liberation Sans, sans-serif" textLength="6.6" lengthAdjust="spacingAndGlyphs">3</text>
<text x="184.2" y="770.2" font-size="15.2" font-family="Liberation Sans, sans-serif" textLength="6.6" lengthAdjust="spacingAndGlyphs">2</text>
<text x="184.2" y="790.2" font-size="15.2" font-family="Liberation Sans, sans-serif" textLength="6.6" lengthAdjust="spacingAndGlyphs">1</text>
<text x="233.2" y="690.2" font-size="15.2" font-family="Liberation Sans, sans-serif" textLength="46" lengthAdjust="spacingAndGlyphs">GB93-87</text>
<text x="212" y="770.2" font-size="15.2" font-family="Liberation Sans, sans-serif" textLength="87.8" lengthAdjust="spacingAndGlyphs">ZZYP-16B DN40</text>
<text x="363.3" y="689.7" font-size="12" font-family="Liberation Sans, Noto Serif CJK SC, serif" textLength="25.6" lengthAdjust="spacingAndGlyphs" font-weight="700">弹垫<tspan font-size="15.2" font-weight="400">5</tspan></text>
<text x="359.6" y="709.7" font-size="12" font-family="Liberation Sans, Noto Serif CJK SC, serif" textLength="33.3" lengthAdjust="spacingAndGlyphs" font-weight="700">螺母<tspan font-size="15.2" font-weight="400">M5</tspan></text>
<text x="366.8" y="729.7" font-size="12" font-family="Liberation Sans, Noto Serif CJK SC, serif" textLength="18.3" lengthAdjust="spacingAndGlyphs" font-weight="700">卡箍</text>
<text x="366.8" y="749.7" font-size="12" font-family="Liberation Sans, Noto Serif CJK SC, serif" textLength="18.3" lengthAdjust="spacingAndGlyphs" font-weight="700">管路</text>
<text x="337.6" y="769.7" font-size="12" font-family="Liberation Sans, Noto Serif CJK SC, serif" textLength="75.2" lengthAdjust="spacingAndGlyphs" font-weight="700">自力式压力调节阀</text>
<text x="366.8" y="789.7" font-size="12" font-family="Liberation Sans, Noto Serif CJK SC, serif" textLength="18.3" lengthAdjust="spacingAndGlyphs" font-weight="700">支架</text>
<text x="446.2" y="690.2" font-size="15.2" font-family="Liberation Sans, sans-serif" textLength="6.6" lengthAdjust="spacingAndGlyphs">2</text>
<text x="446.2" y="710.2" font-size="15.2" font-family="Liberation Sans, sans-serif" textLength="6.6" lengthAdjust="spacingAndGlyphs">2</text>
<text x="446.2" y="730.2" font-size="15.2" font-family="Liberation Sans, sans-serif" textLength="6.6" lengthAdjust="spacingAndGlyphs">2</text>
<text x="446.2" y="750.2" font-size="15.2" font-family="Liberation Sans, sans-serif" textLength="6.6" lengthAdjust="spacingAndGlyphs">1</text>
<text x="446.2" y="770.2" font-size="15.2" font-family="Liberation Sans, sans-serif" textLength="6.6" lengthAdjust="spacingAndGlyphs">1</text>
<text x="446.2" y="790.2" font-size="15.2" font-family="Liberation Sans, sans-serif" textLength="6.6" lengthAdjust="spacingAndGlyphs">1</text>
<text x="502" y="689.7" font-size="12" font-family="Liberation Sans, Noto Serif CJK SC, serif" textLength="27.6" lengthAdjust="spacingAndGlyphs" font-weight="700">不锈钢</text>
<text x="502" y="709.7" font-size="12" font-family="Liberation Sans, Noto Serif CJK SC, serif" textLength="27.6" lengthAdjust="spacingAndGlyphs" font-weight="700">不锈钢</text>
<text x="499.5" y="729.7" font-size="12" font-family="Liberation Sans, Noto Serif CJK SC, serif" textLength="32.2" lengthAdjust="spacingAndGlyphs" font-weight="700"><tspan font-size="15.2" font-weight="400">A3</tspan>镀锌</text>
<text x="502" y="749.7" font-size="12" font-family="Liberation Sans, Noto Serif CJK SC, serif" textLength="27.6" lengthAdjust="spacingAndGlyphs" font-weight="700">组合件</text>
<text x="502" y="769.7" font-size="12" font-family="Liberation Sans, Noto Serif CJK SC, serif" textLength="27.6" lengthAdjust="spacingAndGlyphs" font-weight="700">组合件</text>
<text x="502" y="789.7" font-size="12" font-family="Liberation Sans, Noto Serif CJK SC, serif" textLength="27.6" lengthAdjust="spacingAndGlyphs" font-weight="700">焊接件</text>
<text transform="translate(187.5 814.8) scale(0.78 1)" font-size="14" font-family="Liberation Sans, Noto Serif CJK SC, serif" text-anchor="middle" font-weight="600">序</text>
<text transform="translate(187.5 829.8) scale(0.78 1)" font-size="14" font-family="Liberation Sans, Noto Serif CJK SC, serif" text-anchor="middle" font-weight="600">号</text>
<text transform="translate(224.8 820.3) scale(0.78 1)" font-size="15.5" font-family="Liberation Sans, Noto Serif CJK SC, serif" text-anchor="middle" font-weight="600"><tspan x="0">代</tspan><tspan x="73.33">号</tspan></text>
<text transform="translate(344.2 820.3) scale(0.78 1)" font-size="15.5" font-family="Liberation Sans, Noto Serif CJK SC, serif" text-anchor="middle" font-weight="600"><tspan x="0">名</tspan><tspan x="88.85">称</tspan></text>
<text transform="translate(450.2 812.2) scale(0.78 1)" font-size="15" font-family="Liberation Sans, Noto Serif CJK SC, serif" text-anchor="middle" font-weight="600">数</text>
<text transform="translate(450.2 829.4) scale(0.78 1)" font-size="15" font-family="Liberation Sans, Noto Serif CJK SC, serif" text-anchor="middle" font-weight="600">量</text>
<text transform="translate(487 820.3) scale(0.78 1)" font-size="15.5" font-family="Liberation Sans, Noto Serif CJK SC, serif" text-anchor="middle" font-weight="600"><tspan x="0">材</tspan><tspan x="73.97">料</tspan></text>
<text x="574.3" y="810.8" font-size="14.5" font-family="Liberation Sans, Noto Serif CJK SC, serif" textLength="22.3" lengthAdjust="spacingAndGlyphs" font-weight="600">单件</text>
<text x="605.3" y="810.8" font-size="14.5" font-family="Liberation Sans, Noto Serif CJK SC, serif" textLength="22.7" lengthAdjust="spacingAndGlyphs" font-weight="600">总计</text>
<text transform="translate(587.3 830.6) scale(0.78 1)" font-size="14.5" font-family="Liberation Sans, Noto Serif CJK SC, serif" text-anchor="middle" font-weight="600"><tspan x="0">重</tspan><tspan x="35.51">量</tspan></text>
<text transform="translate(649.8 820.3) scale(0.78 1)" font-size="15.5" font-family="Liberation Sans, Noto Serif CJK SC, serif" text-anchor="middle" font-weight="600"><tspan x="0">备</tspan><tspan x="28.46">注</tspan></text>
<text x="693" y="763.1" font-size="9.8" font-family="Liberation Sans, Noto Serif CJK SC, serif" textLength="14.2" lengthAdjust="spacingAndGlyphs" font-weight="700">标记</text>
<text x="714.2" y="763.1" font-size="9.8" font-family="Liberation Sans, Noto Serif CJK SC, serif" textLength="14.6" lengthAdjust="spacingAndGlyphs" font-weight="700">处数</text>
<text x="741.3" y="763.1" font-size="9.8" font-family="Liberation Sans, Noto Serif CJK SC, serif" textLength="38.9" lengthAdjust="spacingAndGlyphs" font-weight="700">更改文件号</text>
<text transform="translate(803.2 763.1) scale(0.85 1)" font-size="9.8" font-family="Liberation Sans, Noto Serif CJK SC, serif" text-anchor="middle" font-weight="700"><tspan x="0">签</tspan><tspan x="18.82">字</tspan></text>
<text transform="translate(838.5 763.1) scale(0.85 1)" font-size="9.8" font-family="Liberation Sans, Noto Serif CJK SC, serif" text-anchor="middle" font-weight="700"><tspan x="0">日</tspan><tspan x="15.65">期</tspan></text>
<text transform="translate(703 778.5) scale(0.85 1)" font-size="9.8" font-family="Liberation Sans, Noto Serif CJK SC, serif" text-anchor="middle" font-weight="700"><tspan x="0">设</tspan><tspan x="23.65">计</tspan></text>
<text x="741.3" y="778.5" font-size="9.8" font-family="Liberation Sans, Noto Serif CJK SC, serif" textLength="14.9" lengthAdjust="spacingAndGlyphs" font-weight="700">杨力</text>
<text transform="translate(785 778.5) scale(0.85 1)" font-size="9.8" font-family="Liberation Sans, Noto Serif CJK SC, serif" text-anchor="middle" font-weight="700"><tspan x="0">标</tspan><tspan x="14.24">准</tspan><tspan x="28.94">化</tspan></text>
<text transform="translate(702.6 795.8) scale(0.85 1)" font-size="9.8" font-family="Liberation Sans, Noto Serif CJK SC, serif" text-anchor="middle" font-weight="700"><tspan x="0">校</tspan><tspan x="23.65">对</tspan></text>
<text transform="translate(785.8 795.8) scale(0.85 1)" font-size="9.8" font-family="Liberation Sans, Noto Serif CJK SC, serif" text-anchor="middle" font-weight="700"><tspan x="0">批</tspan><tspan x="23.18">准</tspan></text>
<text transform="translate(702.6 813) scale(0.85 1)" font-size="9.8" font-family="Liberation Sans, Noto Serif CJK SC, serif" text-anchor="middle" font-weight="700"><tspan x="0">审</tspan><tspan x="23.65">核</tspan></text>
<text transform="translate(702.6 830.1) scale(0.85 1)" font-size="9.8" font-family="Liberation Sans, Noto Serif CJK SC, serif" text-anchor="middle" font-weight="700"><tspan x="0">工</tspan><tspan x="23.65">艺</tspan></text>
<text transform="translate(786.2 830.1) scale(0.85 1)" font-size="9.8" font-family="Liberation Sans, Noto Serif CJK SC, serif" text-anchor="middle" font-weight="700"><tspan x="0">日</tspan><tspan x="24">期</tspan></text>
<text x="933.3" y="738.6" font-size="14.8" font-family="Liberation Sans, Noto Serif CJK SC, serif" textLength="33.3" lengthAdjust="spacingAndGlyphs" font-weight="500">组合件</text>
<text transform="translate(890 778.8) scale(0.9 1)" font-size="9.8" font-family="Liberation Sans, Noto Serif CJK SC, serif" text-anchor="middle" font-weight="700"><tspan x="0">图</tspan><tspan x="13.11">样</tspan><tspan x="26">标</tspan><tspan x="39.11">记</tspan></text>
<text transform="translate(964.8 778.8) scale(0.9 1)" font-size="9.8" font-family="Liberation Sans, Noto Serif CJK SC, serif" text-anchor="middle" font-weight="700"><tspan x="0">重</tspan><tspan x="16.44">量</tspan></text>
<text transform="translate(1004.2 778.8) scale(0.9 1)" font-size="9.8" font-family="Liberation Sans, Noto Serif CJK SC, serif" text-anchor="middle" font-weight="700"><tspan x="0">比</tspan><tspan x="16.44">例</tspan></text>
<text x="868.5" y="803.5" font-size="14" font-family="Liberation Sans, sans-serif" textLength="7" lengthAdjust="spacingAndGlyphs">S</text>
<text x="1005" y="803.5" font-size="14" font-family="Liberation Sans, sans-serif" textLength="12.2" lengthAdjust="spacingAndGlyphs">1:1</text>
<text transform="translate(881 828.2) scale(0.9 1)" font-size="9.8" font-family="Liberation Sans, Noto Serif CJK SC, serif" text-anchor="middle" font-weight="700"><tspan x="0">共</tspan><tspan x="62.22">张</tspan></text>
<text transform="translate(969.5 828.2) scale(0.9 1)" font-size="9.8" font-family="Liberation Sans, Noto Serif CJK SC, serif" text-anchor="middle" font-weight="700"><tspan x="0">第</tspan><tspan x="44.67">张</tspan></text>
<text x="1089.2" y="730.6" font-size="17.6" font-family="Liberation Sans, Noto Serif CJK SC, serif" textLength="53.9" lengthAdjust="spacingAndGlyphs" font-weight="500">明达仪表</text>
<text x="1103.7" y="777.6" font-size="17.6" font-family="Liberation Sans, Noto Serif CJK SC, serif" textLength="25.4" lengthAdjust="spacingAndGlyphs" font-weight="500">总图</text>
<text x="1032.4" y="820" font-size="20" font-family="Liberation Sans, sans-serif" textLength="66" lengthAdjust="spacingAndGlyphs" stroke="#fff" stroke-width="0.3">DN40PN16</text>
<text x="1100.3" y="818.6" font-size="16.5" font-family="Liberation Sans, Noto Serif CJK SC, serif" textLength="89.5" lengthAdjust="spacingAndGlyphs" font-weight="600">自力式单回路阀组</text>
<text x="20" y="864.3" font-size="16.4" font-family="Liberation Sans, sans-serif" textLength="364.6" lengthAdjust="spacingAndGlyphs" fill="#111">PDF created with pdfFactory Pro trial version</text>
<text x="390.6" y="864.3" font-size="16.4" font-family="Liberation Sans, sans-serif" textLength="165" lengthAdjust="spacingAndGlyphs" fill="#0000c8">www.pdffactory.com</text>
</g>
</svg>

</body></html>
